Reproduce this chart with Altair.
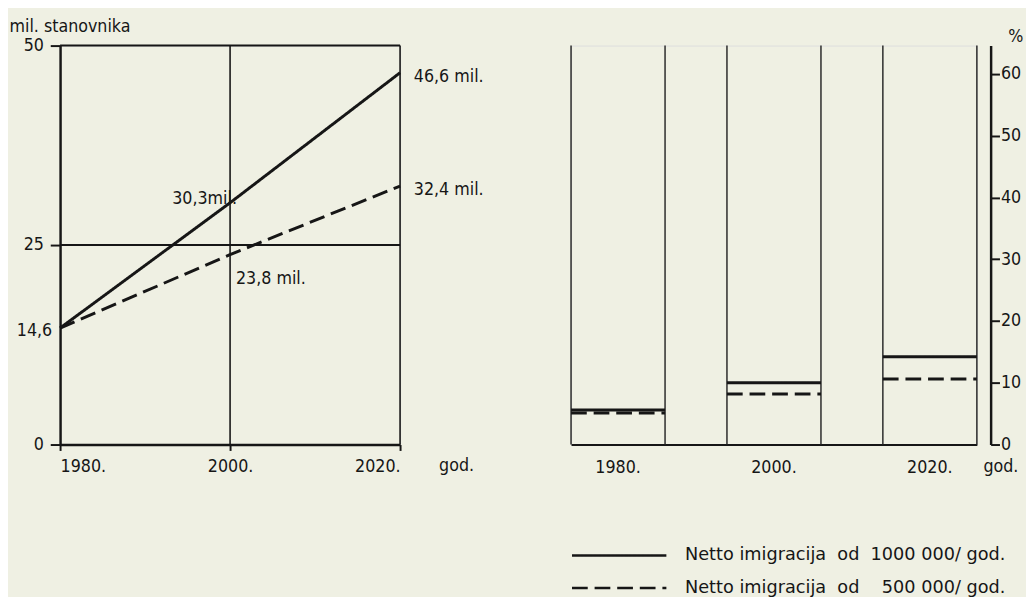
import altair as alt
import pandas as pd

# ---------------- data ----------------
years = [1980, 2000, 2020]
year_labels = ["1980.", "2000.", "2020."]
NB = "\u00a0"
series = ["Netto imigracija" + NB * 2 + "od" + NB * 2 + "1000 000/ god.",
          "Netto imigracija" + NB * 2 + "od" + NB * 4 + "500 000/ god."]
pop_high = [14.6, 30.3, 46.6]      # mil. stanovnika
pop_low = [14.6, 23.8, 32.4]
pct_high = [5.6, 10.0, 14.2]       # %
pct_low = [5.1, 8.2, 10.6]
left_ticks = [0, 25, 50]
left_hlines = [25, 50]
left_vlines = [2000, 2020]
right_ticks = [0, 10, 20, 30, 40, 50, 60]

FONT = "DejaVu Sans Condensed, DejaVu Sans"
LFONT = "DejaVu Sans"
INK = "#161616"
BG = "#eff0e3"
FS = 18

pop = pd.DataFrame({
    "year": years * 2,
    "value": pop_high + pop_low,
    "series": [series[0]] * 3 + [series[1]] * 3,
})
pct = pd.DataFrame({
    "yl": year_labels * 2,
    "pct": pct_high + pct_low,
    "series": [series[0]] * 3 + [series[1]] * 3,
})
boxes = pd.DataFrame({"yl": year_labels})

def dash_scale():
    return alt.Scale(domain=series, range=[[1, 0], [16, 7]])

title_style = dict(titleFontSize=FS, titleFontWeight="normal", titleFont=FONT, titleColor=INK,
                   titleBaseline="middle")
label_style = dict(labelFontSize=FS, labelColor=INK, labelFont=FONT)

# ---------------- left panel ----------------
xL = alt.X("year:Q", scale=alt.Scale(domain=[1980, 2020], nice=False, zero=False),
           axis=alt.Axis(values=years, labelExpr="datum.value + '.'", grid=False,
                         tickSize=6, tickWidth=2, tickColor=INK, domainWidth=2.5, domainColor=INK,
                         labelPadding=7, title="god.", titleX=403, titleY=21, titleAlign="center",
                         **label_style, **title_style))
yL = alt.Y("value:Q", scale=alt.Scale(domain=[0, 50], nice=False),
           axis=alt.Axis(values=left_ticks, grid=False, tickSize=10, tickWidth=2, tickColor=INK,
                         domainWidth=2.5, domainColor=INK, labelPadding=7,
                         title="mil. stanovnika", titleAngle=0, titleX=-52, titleY=-19,
                         titleAlign="left", **label_style, **title_style))

hl = alt.Chart(pd.DataFrame({"value": left_hlines})).mark_rule(color=INK, strokeWidth=2).encode(
    y="value:Q")
vl = alt.Chart(pd.DataFrame({"year": left_vlines})).mark_rule(color=INK, strokeWidth=1.6).encode(
    x="year:Q")

lines = alt.Chart(pop).mark_line(color=INK, strokeWidth=3).encode(
    x=xL, y=yL,
    strokeDash=alt.StrokeDash("series:N", scale=dash_scale(), legend=None),
)

lab_end = pd.DataFrame({"year": [2020, 2020], "value": [pop_high[2], pop_low[2]],
                        "t": ["46,6 mil.", "32,4 mil."]})
lab_mid_hi = pd.DataFrame({"year": [2000], "value": [pop_high[1]], "t": ["30,3mil."]})
lab_mid_lo = pd.DataFrame({"year": [2000], "value": [pop_low[1]], "t": ["23,8 mil."]})
lab_start = pd.DataFrame({"year": [1980], "value": [pop_high[0]], "t": ["14,6"]})

def txt(df, **kw):
    return alt.Chart(df).mark_text(font=FONT, fontSize=FS, color=INK, **kw).encode(
        x="year:Q", y="value:Q", text="t:N")

left = alt.layer(
    hl, vl, lines,
    txt(lab_end, align="left", dx=14, dy=4),
    txt(lab_mid_hi, align="right", dx=7, dy=-4),
    txt(lab_mid_lo, align="left", dx=6, dy=25),
    txt(lab_start, align="right", dx=-8, dy=3),
).properties(width=346, height=406)

# ---------------- right panel ----------------
xR_scale = alt.Scale(paddingInner=0.397, paddingOuter=0)
xR_axis = alt.Axis(labelAngle=0, ticks=False, domainWidth=2, domainColor=INK, bandPosition=0.5,
                   labelAlign="center", labelPadding=23,
                   title="god.", titleX=437, titleY=22, titleAlign="center",
                   **label_style, **title_style)
yR = alt.Y("pct:Q", scale=alt.Scale(domain=[0, 64.6], nice=False),
           axis=alt.Axis(orient="right", offset=14, values=right_ticks, grid=False,
                         tickSize=9, tickWidth=2, tickColor=INK, domainWidth=2.5, domainColor=INK,
                         labelPadding=1, title="%", titleAngle=0, titleX=25, titleY=-9,
                         titleAlign="center", **label_style, **title_style))

edge_l = alt.Chart(boxes).mark_rule(color="#2a2a2a", strokeWidth=1.5).encode(
    x=alt.X("yl:N", sort=year_labels, bandPosition=0),
    y=alt.datum(0), y2=alt.value(0))
edge_r = alt.Chart(boxes).mark_rule(color="#2a2a2a", strokeWidth=1.5).encode(
    x=alt.X("yl:N", sort=year_labels, bandPosition=1),
    y=alt.datum(0), y2=alt.value(0))

levels = alt.Chart(pct).mark_rule(color=INK, strokeWidth=3).encode(
    x=alt.X("yl:N", sort=year_labels, bandPosition=0, axis=xR_axis, scale=xR_scale),
    x2=alt.X2("yl", bandPosition=1),
    y=yR,
    strokeDash=alt.StrokeDash(
        "series:N", scale=dash_scale(),
        legend=alt.Legend(orient="none", legendX=38, legendY=508, title=None,
                          symbolType="M-5,0H5", symbolSize=369, symbolStrokeWidth=2.5,
                          symbolStrokeColor=INK, symbolFillColor="transparent",
                          labelFontSize=FS, labelFont=LFONT, labelLimit=0,
                          labelColor=INK, labelOffset=56, padding=0, rowPadding=13)),
)

right = alt.layer(edge_l, edge_r, levels).properties(width=413, height=406)

chart = alt.hconcat(left, right, spacing=174, bounds="flush").resolve_scale(
    strokeDash="independent").resolve_legend(strokeDash="independent").configure_view(
    strokeWidth=0, stroke="transparent").configure(
    background=BG, font=FONT, padding={"left": 0, "top": 4, "right": 2, "bottom": 0})

chart.save("out.html", embed_options={"renderer": "svg", "actions": False})
